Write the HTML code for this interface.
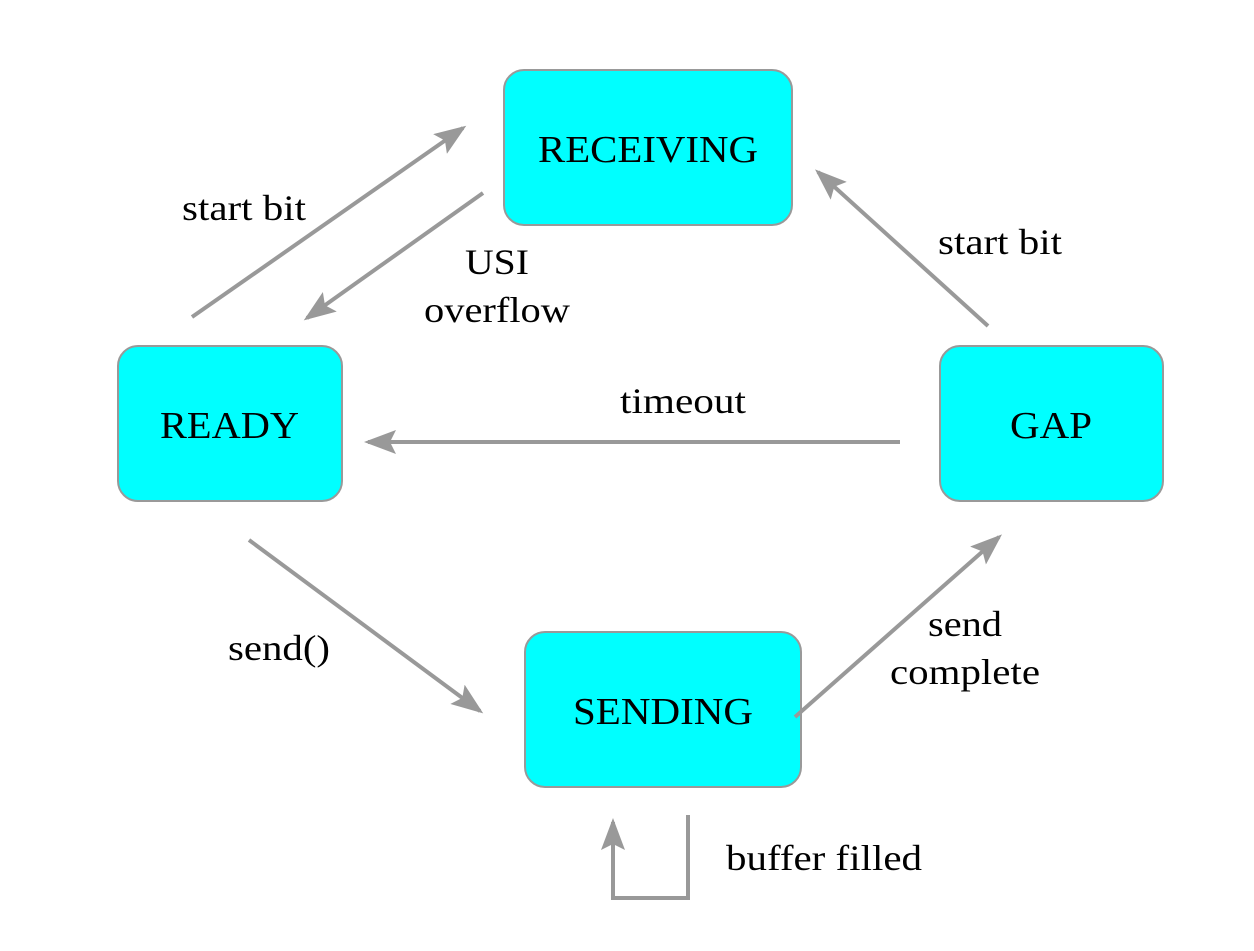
<!DOCTYPE html>
<html><head><style>body{margin:0;background:#fff}</style></head><body>
<svg width="1254" height="946" xmlns="http://www.w3.org/2000/svg" font-family="Liberation Serif, serif">
<defs><marker id="a" markerWidth="8" markerHeight="6" refX="7" refY="3" orient="auto" markerUnits="strokeWidth"><path d="M0,0 L8,3 L0,6 L1.5,3 Z" fill="#999"/></marker></defs>
<g fill="#00ffff" stroke="#999" stroke-width="2">
<rect x="504" y="70" width="288" height="155" rx="20"/>
<rect x="118" y="346" width="224" height="155" rx="20"/>
<rect x="940" y="346" width="223" height="155" rx="20"/>
<rect x="525" y="632" width="276" height="155" rx="20"/>
</g>
<g font-size="38" fill="#000" lengthAdjust="spacingAndGlyphs">
<text x="538" y="162" textLength="220" lengthAdjust="spacingAndGlyphs">RECEIVING</text>
<text x="160" y="438" textLength="139" lengthAdjust="spacingAndGlyphs">READY</text>
<text x="1010" y="438" textLength="82" lengthAdjust="spacingAndGlyphs">GAP</text>
<text x="573" y="724" textLength="180" lengthAdjust="spacingAndGlyphs">SENDING</text>
</g>
<g stroke="#999" stroke-width="4" fill="none" marker-end="url(#a)">
<line x1="192" y1="317" x2="463" y2="128"/>
<line x1="483" y1="193" x2="307" y2="318"/>
<line x1="988" y1="326" x2="818" y2="172"/>
<line x1="900" y1="442" x2="368" y2="442"/>
<line x1="249" y1="540" x2="480" y2="711"/>
<line x1="795" y1="717" x2="999" y2="537"/>
<polyline points="688,815 688,898 613,898 613,822"/>
</g>
<g font-size="36" fill="#000">
<text x="182" y="220" textLength="124" lengthAdjust="spacingAndGlyphs">start bit</text>
<text x="465" y="274" textLength="64" lengthAdjust="spacingAndGlyphs">USI</text>
<text x="424" y="322" textLength="146" lengthAdjust="spacingAndGlyphs">overflow</text>
<text x="938" y="254" textLength="124" lengthAdjust="spacingAndGlyphs">start bit</text>
<text x="620" y="413" textLength="126" lengthAdjust="spacingAndGlyphs">timeout</text>
<text x="228" y="660" textLength="102" lengthAdjust="spacingAndGlyphs">send()</text>
<text x="928" y="636" textLength="74" lengthAdjust="spacingAndGlyphs">send</text>
<text x="890" y="684" textLength="150" lengthAdjust="spacingAndGlyphs">complete</text>
<text x="726" y="870" textLength="196" lengthAdjust="spacingAndGlyphs">buffer filled</text>
</g>
</svg>
</body></html>
